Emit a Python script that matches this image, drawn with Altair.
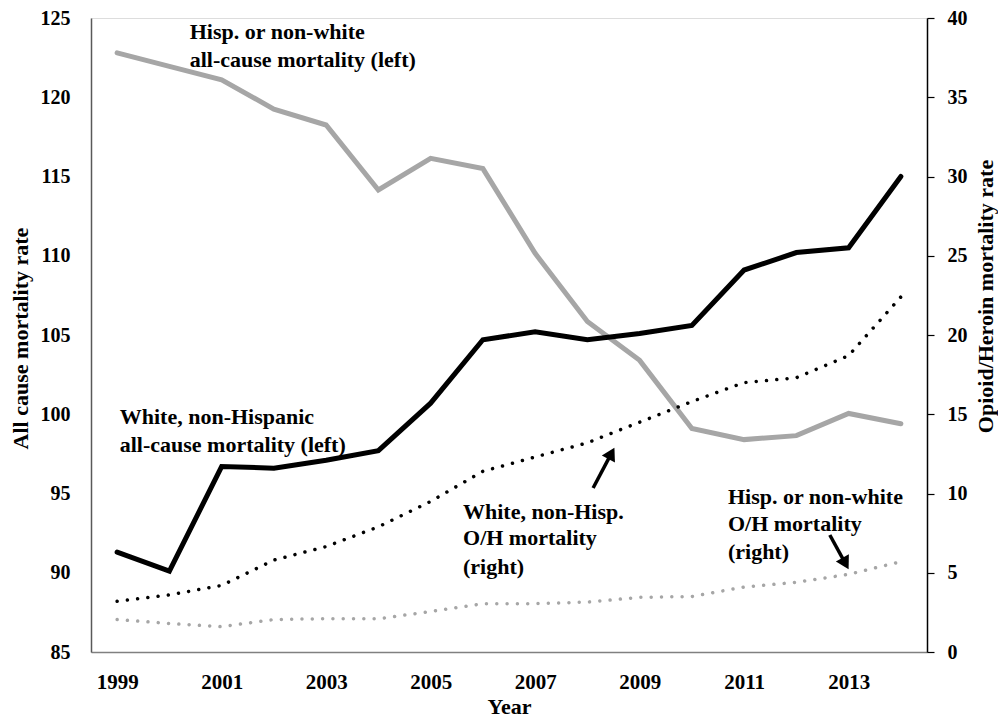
import altair as alt
import pandas as pd

years = list(range(1999, 2015))
white_all = [91.3, 90.1, 96.7, 96.6, 97.1, 97.7, 100.7, 104.7, 105.2, 104.7, 105.1, 105.6, 109.1, 110.2, 110.5, 115.0]
hisp_all = [122.8, 121.95, 121.1, 119.25, 118.25, 114.15, 116.15, 115.5, 110.15, 105.85, 103.4, 99.1, 98.4, 98.65, 100.05, 99.4]
white_oh = [3.2, 3.6, 4.2, 5.8, 6.65, 7.9, 9.5, 11.4, 12.3, 13.2, 14.5, 15.8, 17.0, 17.3, 18.7, 22.4]
hisp_oh = [2.05, 1.8, 1.6, 2.05, 2.1, 2.1, 2.55, 3.05, 3.05, 3.15, 3.45, 3.5, 4.1, 4.4, 4.9, 5.7]

x_ticks = [1999, 2001, 2003, 2005, 2007, 2009, 2011, 2013]
left_ticks = [85, 90, 95, 100, 105, 110, 115, 120, 125]
right_ticks = [0, 5, 10, 15, 20, 25, 30, 35, 40]

ann_text = ["Hisp. or non-white", "all-cause mortality (left)",
            "White, non-Hispanic", "all-cause mortality (left)",
            "White, non-Hisp.", "O/H mortality", "(right)",
            "Hisp. or non-white", "O/H mortality", "(right)"]
ann_x = [2000.39, 2000.39, 1999.05, 1999.05, 2005.62, 2005.62, 2005.62, 2010.69, 2010.69, 2010.69]
ann_y = [124.12, 122.35, 99.83, 98.06, 93.83, 92.19, 90.36, 94.78, 93.08, 91.31]

arrow_x = [2008.11, 2012.64]
arrow_y = [10.35, 7.38]
arrow_x2 = [2008.46, 2012.94]
arrow_y2 = [12.53, 5.58]
arrow_angle = [28, 151]

FONT = "Liberation Serif"
GRAY = "#a6a6a6"

df = pd.DataFrame({"year": years, "white_all": white_all, "hisp_all": hisp_all,
                   "white_oh": white_oh, "hisp_oh": hisp_oh})
ann = pd.DataFrame({"text": ann_text, "x": ann_x, "y": ann_y})
arr = pd.DataFrame({"x": arrow_x, "y": arrow_y, "x2": arrow_x2, "y2": arrow_y2, "angle": arrow_angle})

xscale = alt.Scale(domain=[1998.5, 2014.5], nice=False, zero=False)
xaxis = alt.Axis(values=x_ticks, format="d", title="Year", grid=False, ticks=False,
                 domainColor="#808080", domainWidth=1.5, labelPadding=19,
                 labelFont=FONT, labelFontSize=21, labelFontWeight="bold", labelColor="black",
                 titleFont=FONT, titleFontSize=22, titleFontWeight="bold", titleColor="black",
                 titlePadding=4)

lscale = alt.Scale(domain=[85, 125], nice=False, zero=False)
laxis = alt.Axis(values=left_ticks, title="All cause mortality rate", grid=False, ticks=False,
                 domainColor="#595959", domainWidth=1.5, labelPadding=21,
                 labelFont=FONT, labelFontSize=20, labelFontWeight="bold", labelColor="black",
                 titleFont=FONT, titleFontSize=22, titleFontWeight="bold", titleColor="black",
                 titleX=-71, titleY=320, titleAngle=270, titleBaseline="middle", titleAlign="center")

rscale = alt.Scale(domain=[0, 40], nice=False, zero=False)
raxis = alt.Axis(values=right_ticks, title="Opioid/Heroin mortality rate", orient="right", grid=False,
                 ticks=True, tickSize=7, tickColor="black", tickWidth=1.2,
                 domainColor="black", domainWidth=1.5, labelPadding=13,
                 labelFont=FONT, labelFontSize=20, labelFontWeight="bold", labelColor="black",
                 titleFont=FONT, titleFontSize=22, titleFontWeight="bold", titleColor="black",
                 titleX=58, titleY=278, titleAngle=270, titleBaseline="middle", titleAlign="center")

X = alt.X("year:Q", scale=xscale, axis=xaxis)

white_line = alt.Chart(df).mark_line(color="black", strokeWidth=5, strokeCap="round").encode(
    x=X, y=alt.Y("white_all:Q", scale=lscale, axis=laxis))
hisp_line = alt.Chart(df).mark_line(color=GRAY, strokeWidth=5, strokeCap="round").encode(
    x=X, y=alt.Y("hisp_all:Q", scale=lscale, axis=laxis))
texts = alt.Chart(ann).mark_text(align="left", baseline="middle", font=FONT, fontSize=22,
                                 fontWeight="bold", color="black").encode(
    x=alt.X("x:Q", scale=xscale, axis=xaxis),
    y=alt.Y("y:Q", scale=lscale, axis=laxis),
    text="text:N")
left = alt.layer(hisp_line, white_line, texts)

white_dot = alt.Chart(df).mark_line(color="black", strokeWidth=3.5, strokeCap="round",
                                    strokeDash=[0.01, 10.3]).encode(
    x=X, y=alt.Y("white_oh:Q", scale=rscale, axis=raxis))
hisp_dot = alt.Chart(df).mark_line(color=GRAY, strokeWidth=3.5, strokeCap="round",
                                   strokeDash=[0.01, 10.3]).encode(
    x=X, y=alt.Y("hisp_oh:Q", scale=rscale, axis=raxis))
shaft = alt.Chart(arr).mark_rule(color="black", strokeWidth=3.5).encode(
    x=alt.X("x:Q", scale=xscale, axis=xaxis),
    y=alt.Y("y:Q", scale=rscale, axis=raxis),
    x2="x2:Q", y2="y2:Q")
head = alt.Chart(arr).mark_point(shape="triangle-up", filled=True, color="black", size=220, opacity=1).encode(
    x=alt.X("x2:Q", scale=xscale, axis=xaxis),
    y=alt.Y("y2:Q", scale=rscale, axis=raxis),
    angle=alt.Angle("angle:Q", scale=None))
right = alt.layer(hisp_dot, white_dot, shaft, head)

chart = alt.layer(left, right).resolve_scale(y="independent").properties(
    width=836, height=634,
    autosize=alt.AutoSizeParams(type="none"),
    padding={"left": 83, "top": 10, "right": 71, "bottom": 67},
).configure_view(stroke=None).configure(background="white")

chart.save("out.html", embed_options={"renderer": "svg", "actions": False})
